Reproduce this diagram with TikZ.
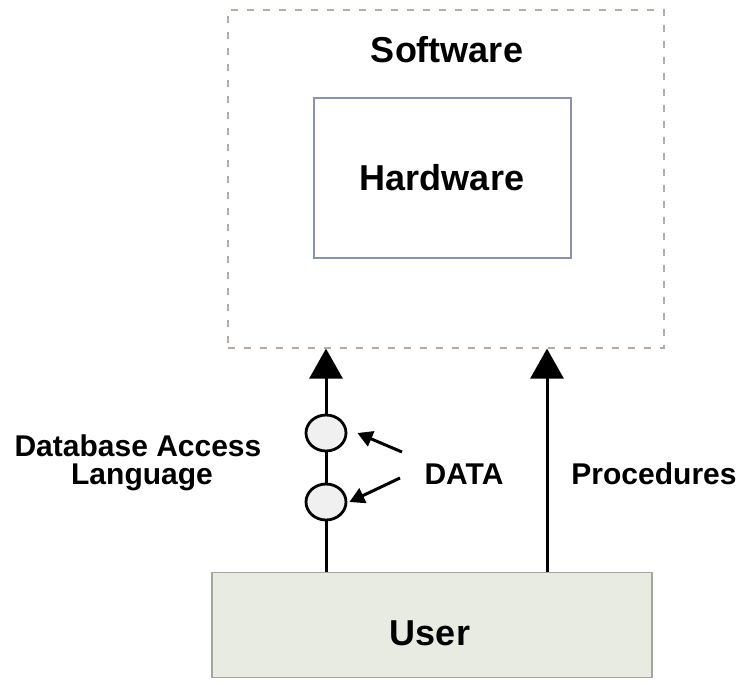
\documentclass[tikz,border=0pt]{standalone}
\usepackage{fontspec}
\setmainfont{Liberation Sans}
\usetikzlibrary{arrows.meta,calc,positioning,shapes.geometric}
\definecolor{dashgray}{HTML}{B4ACA4}
\definecolor{hwblue}{HTML}{8A94A8}
\definecolor{userfill}{HTML}{E8EBE2}
\definecolor{userline}{HTML}{A3A79A}
\newcommand{\ttl}[1]{{\fontsize{36}{40}\selectfont\bfseries #1}}
\newcommand{\lab}[1]{{\fontsize{30}{33}\selectfont\bfseries #1}}

\begin{document}
\begin{tikzpicture}[x=1pt,y=-1pt,
    bigarrow/.style={line width=3pt,-{Triangle[length=30pt,width=33pt]}},
    smallarrow/.style={line width=3pt,-{Triangle[length=15pt,width=16pt]}},
    plain/.style={line width=3pt},
    dbcircle/.style={ellipse,draw,line width=2.8pt,fill=gray!12,minimum width=40pt,minimum height=36pt,inner sep=0pt}]
      \useasboundingbox (0,0) rectangle (746,690);
      \begin{scope}
        \node[draw=dashgray,dashed,dash pattern=on 7pt off 9pt,line width=1.2pt,minimum width=436pt,minimum height=338pt] (sw) at (446,179) {};
        \node (swlabel) at (447,50) {\ttl{Software}};
        \node[draw=hwblue,line width=2pt,minimum width=257pt,minimum height=160pt] (hw) at (442,178) {\ttl{Hardware}};
      \end{scope}
      \begin{scope}
        \node[draw=userline,fill=userfill,line width=1.5pt,minimum width=440pt,minimum height=105pt] (user) at (432,625) {};
        \node (userlabel) at (430,633) {\ttl{User}};
        \node[dbcircle] (c1) at (326,433) {};
        \node[dbcircle] (c2) at (326,502) {};
        \draw (138,446) node (dal) {\lab{Database Access}};
        \draw (142,477) node (lang) {\lab{Language}};
        \draw (464,474) node (data) {\lab{DATA}};
        \draw (654,474) node (proc) {\lab{Procedures}};
        \coordinate (p1) at (402,452);
        \coordinate (p2) at (400,478);
        \coordinate (pr) at (547,474);
      \end{scope}
      \draw[plain] (user.north -| c2) -- (c2.south);
      \draw[plain] (c2.north) -- (c1.south);
      \draw[bigarrow] (c1.north) -- (c1 |- sw.south);
      \draw[bigarrow] (user.north -| pr) -- (sw.south -| pr);
      \draw[smallarrow] (p1) -- ([xshift=10pt]c1.east);
      \draw[smallarrow] (p2) -- ([xshift=2pt]c2.east);
    \end{tikzpicture}
\end{document}
